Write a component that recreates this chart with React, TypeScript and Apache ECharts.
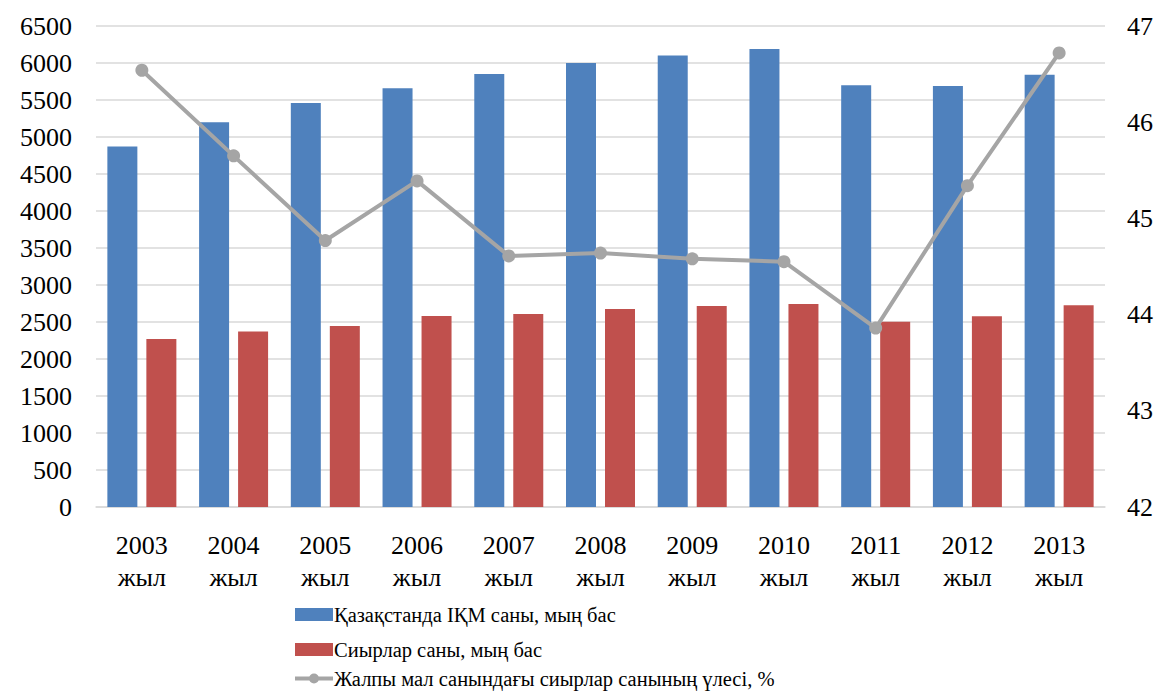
import React, { useEffect, useRef } from "react";
import * as echarts from "echarts";

const categories = ["2003\nжыл", "2004\nжыл", "2005\nжыл", "2006\nжыл", "2007\nжыл", "2008\nжыл", "2009\nжыл", "2010\nжыл", "2011\nжыл", "2012\nжыл", "2013\nжыл"];
const totalCattle = [4870, 5200, 5460, 5660, 5850, 6000, 6100, 6190, 5700, 5690, 5840];
const cows = [2270, 2372, 2446, 2581, 2608, 2676, 2716, 2743, 2504, 2577, 2726];
const cowShare = [46.54, 45.65, 44.77, 45.39, 44.61, 44.64, 44.58, 44.55, 43.86, 45.34, 46.72];
const seriesNames = [
  "Қазақстанда ІҚМ саны, мың бас",
  "Сиырлар саны, мың бас",
  "Жалпы мал санындағы сиырлар санының үлесі, %",
];

const font = "Liberation Serif";

const legendText = { fontFamily: font, fontSize: 20.5, color: "#000", padding: [0, 0, 0, -4] };
const lineIcon =
  "path://M0,4.5 L38,4.5 L38,8.5 L0,8.5 Z M24,6.5 A5,5 0 1 1 14,6.5 A5,5 0 1 1 24,6.5 Z";

export default function App() {
  const ref = useRef<HTMLDivElement>(null);
  useEffect(() => {
    const chart = echarts.init(ref.current!, null, { renderer: "svg" });
    chart.setOption({
      animation: false,
      textStyle: { fontFamily: font },
      grid: { left: 96, right: 53, top: 26, bottom: 184 },
      legend: [
        {
          left: 295,
          top: 604,
          padding: 0,
          itemWidth: 38,
          itemHeight: 13,
          textStyle: legendText,
          data: [{ name: seriesNames[0], icon: "rect" }],
        },
        {
          left: 295,
          top: 639,
          padding: 0,
          itemWidth: 38,
          itemHeight: 13,
          textStyle: legendText,
          data: [{ name: seriesNames[1], icon: "rect" }],
        },
        {
          left: 295,
          top: 668,
          padding: 0,
          itemWidth: 38,
          itemHeight: 13,
          textStyle: legendText,
          data: [{ name: seriesNames[2], icon: lineIcon, itemStyle: { color: "#a5a5a5" } }],
        },
      ],
      xAxis: {
        type: "category",
        data: categories,
        axisTick: { show: false },
        axisLine: { lineStyle: { color: "#d9d9d9", width: 1.5 } },
        axisLabel: { fontFamily: font, fontSize: 26, color: "#000", margin: 22, lineHeight: 32 },
      },
      yAxis: [
        {
          type: "value",
          min: 0,
          max: 6500,
          interval: 500,
          axisLine: { show: false },
          axisTick: { show: false },
          splitLine: { lineStyle: { color: "#d9d9d9", width: 1.5 } },
          axisLabel: { fontFamily: font, fontSize: 26, color: "#000", margin: 24, formatter: (v: number) => String(v) },
        },
        {
          type: "value",
          min: 42,
          max: 47,
          interval: 1,
          axisLine: { show: false },
          axisTick: { show: false },
          splitLine: { show: false },
          axisLabel: { fontFamily: font, fontSize: 26, color: "#000", margin: 22, formatter: (v: number) => String(v) },
        },
      ],
      series: [
        {
          name: seriesNames[0],
          type: "bar",
          data: totalCattle,
          barWidth: 30,
          barGap: "30%",
          itemStyle: { color: "#4f81bd" },
        },
        {
          name: seriesNames[1],
          type: "bar",
          data: cows,
          barWidth: 30,
          barGap: "30%",
          itemStyle: { color: "#c0504d" },
        },
        {
          name: seriesNames[2],
          type: "line",
          yAxisIndex: 1,
          data: cowShare,
          symbol: "circle",
          symbolSize: 13,
          lineStyle: { color: "#a5a5a5", width: 4 },
          itemStyle: { color: "#a5a5a5" },
        },
      ],
    });
    return () => chart.dispose();
  }, []);
  return <div ref={ref} style={{ position: "absolute", left: 0, top: 0, width: 1158, height: 691 }} />;
}
